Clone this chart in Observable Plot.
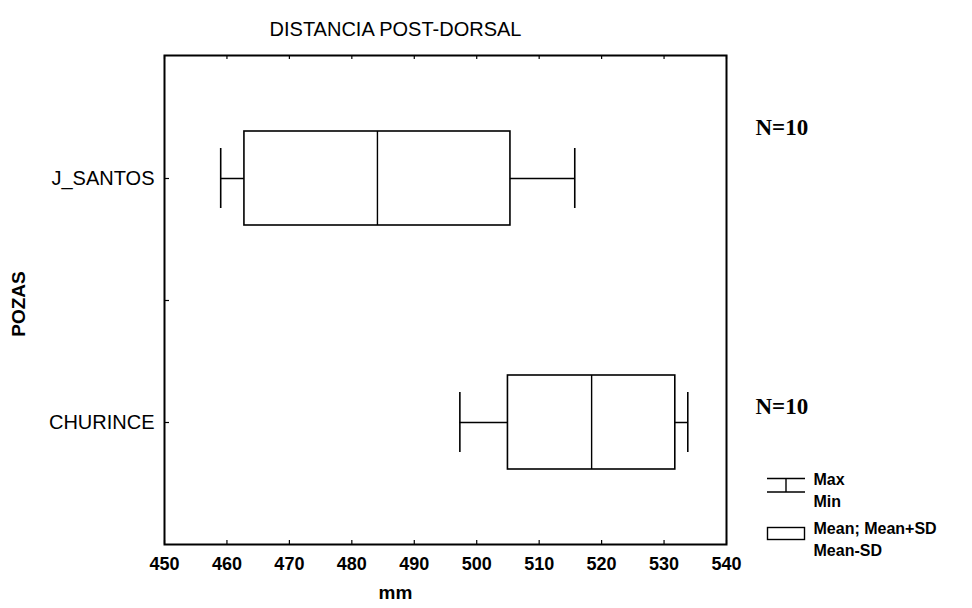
<!DOCTYPE html>
<html>
<head>
<meta charset="utf-8">
<script src="https://cdn.jsdelivr.net/npm/d3@7"></script>
<script src="https://cdn.jsdelivr.net/npm/@observablehq/plot@0.6"></script>
<style>
  html, body { margin: 0; padding: 0; background: #fff; }
  #chart { width: 972px; height: 608px; }
</style>
</head>
<body>
<div id="chart"></div>
<script>
// ---- data ----
const pozas = ["J_SANTOS", "CHURINCE"];
const minVals = [459.0, 497.3];
const meanVals = [484.1, 518.4];
const sdVals = [21.3, 13.4];
const maxVals = [515.7, 533.8];
const nVals = [10, 10];
const xTicks = [450, 460, 470, 480, 490, 500, 510, 520, 530, 540];
const titleText = "DISTANCIA POST-DORSAL";
const xLabel = "mm";
const yLabel = "POZAS";
const legendLabels = ["Max", "Min", "Mean; Mean+SD", "Mean-SD"];

const rows = pozas.map((p, i) => ({
  pozas: p,
  min: minVals[i],
  mean: meanVals[i],
  lo: meanVals[i] - sdVals[i],
  hi: meanVals[i] + sdVals[i],
  max: maxVals[i],
  n: nVals[i]
}));

const sans = "'Liberation Sans', Arial, Helvetica, sans-serif";
const serif = "'Liberation Serif', 'Times New Roman', serif";

const plot = Plot.plot({
  width: 972,
  height: 608,
  marginLeft: 164,
  marginRight: 246,
  marginTop: 55,
  marginBottom: 64,
  style: { fontFamily: sans, background: "white", color: "black", overflow: "visible" },
  x: { domain: [450, 540] },
  y: { domain: pozas, type: "band", padding: 0 },
  marks: [
    // whiskers
    Plot.ruleY(rows, { y: "pozas", x1: "min", x2: "max", stroke: "black", strokeWidth: 1.5 }),
    Plot.tickX(rows, { x: "min", y: "pozas", insetTop: 92, insetBottom: 92, stroke: "black", strokeWidth: 1.6 }),
    Plot.tickX(rows, { x: "max", y: "pozas", insetTop: 92, insetBottom: 92, stroke: "black", strokeWidth: 1.6 }),
    // boxes (mean ± SD)
    Plot.barX(rows, { x1: "lo", x2: "hi", y: "pozas", insetTop: 75, insetBottom: 75, fill: "white", stroke: "black", strokeWidth: 1.6 }),
    Plot.tickX(rows, { x: "mean", y: "pozas", insetTop: 75, insetBottom: 75, stroke: "black", strokeWidth: 1.4 }),
    // frame and inward ticks
    Plot.frame({ stroke: "black", strokeWidth: 2 }),
    Plot.tickX(xTicks, { x: d => d, insetTop: 485, stroke: "black", strokeWidth: 1.2 }),
    Plot.tickX(xTicks, { x: d => d, insetBottom: 485, stroke: "black", strokeWidth: 1.2 }),
    Plot.tickY(pozas, { y: d => d, insetRight: 557, stroke: "black", strokeWidth: 1.2 }),
    Plot.tickY(pozas.slice(1), { y: d => d, dy: -122, insetRight: 557, stroke: "black", strokeWidth: 1.2 }),
    // axes
    Plot.axisX({ ticks: xTicks, tickSize: 0, tickPadding: 13, fontSize: 18, fontWeight: "bold", label: null }),
    Plot.axisY({ tickSize: 0, tickPadding: 10, fontSize: 20, label: null }),
    // titles
    Plot.text([titleText], { text: d => d, frameAnchor: "top-left", dx: 231, dy: -34, textAnchor: "middle", fontSize: 20 }),
    Plot.text([xLabel], { text: d => d, frameAnchor: "bottom", dx: -50, dy: 54, textAnchor: "middle", fontSize: 19, fontWeight: "bold" }),
    Plot.text([yLabel], { text: d => d, frameAnchor: "left", dx: -146, dy: 4, rotate: -90, textAnchor: "middle", fontSize: 19, fontWeight: "bold" }),
    // N labels
    Plot.text(rows.slice(0, 1), { y: "pozas", text: d => `N=${d.n}`, frameAnchor: "right", dx: 29, dy: -51, textAnchor: "start", fontFamily: serif, fontWeight: "bold", fontSize: 23 }),
    Plot.text(rows.slice(1, 2), { y: "pozas", text: d => `N=${d.n}`, frameAnchor: "right", dx: 29, dy: -16, textAnchor: "start", fontFamily: serif, fontWeight: "bold", fontSize: 23 }),
    // legend texts
    Plot.text([legendLabels[0]], { text: d => d, frameAnchor: "bottom-right", dx: 87, dy: -60, textAnchor: "start", fontSize: 16, fontWeight: "bold" }),
    Plot.text([legendLabels[1]], { text: d => d, frameAnchor: "bottom-right", dx: 87, dy: -38, textAnchor: "start", fontSize: 16, fontWeight: "bold" }),
    Plot.text([legendLabels[2]], { text: d => d, frameAnchor: "bottom-right", dx: 87, dy: -11, textAnchor: "start", fontSize: 16, fontWeight: "bold" }),
    Plot.text([legendLabels[3]], { text: d => d, frameAnchor: "bottom-right", dx: 87, dy: 11, textAnchor: "start", fontSize: 16, fontWeight: "bold" })
  ]
});

// legend symbols
const g = d3.select(plot).append("g").attr("fill", "none").attr("stroke", "black").attr("stroke-width", 1.4);
g.append("path").attr("d", "M767,478.5H791M786,478.5V492M767,492H805M791,478.5H805");
g.append("rect").attr("x", 767.5).attr("y", 527.5).attr("width", 37).attr("height", 12).attr("fill", "white");

document.getElementById("chart").appendChild(plot);
</script>
</body>
</html>
